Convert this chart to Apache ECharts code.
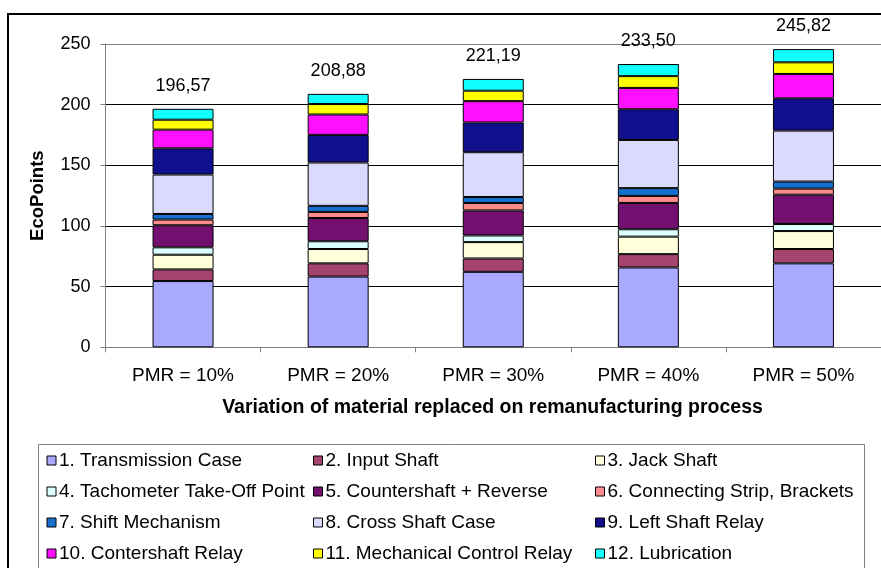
<!DOCTYPE html>
<html>
<head>
<meta charset="utf-8">
<script src="https://cdn.jsdelivr.net/npm/echarts@6/dist/echarts.min.js"></script>
<style>
html,body{margin:0;padding:0;background:#fff;}
#chart{width:881px;height:568px;}
</style>
</head>
<body>
<div id="chart"></div>
<script>
const categories = ['PMR = 10%', 'PMR = 20%', 'PMR = 30%', 'PMR = 40%', 'PMR = 50%'];
const totals = ['196,57', '208,88', '221,19', '233,50', '245,82'];
const yTicks = [0, 50, 100, 150, 200, 250];

const seriesNames = [
  '1. Transmission Case', '2. Input Shaft', '3. Jack Shaft',
  '4. Tachometer Take-Off Point', '5. Countershaft + Reverse', '6. Connecting Strip, Brackets',
  '7. Shift Mechanism', '8. Cross Shaft Case', '9. Left Shaft Relay',
  '10. Contershaft Relay', '11. Mechanical Control Relay', '12. Lubrication'
];

const transmissionCase   = [54.6, 58.3, 62.2, 65.8, 69.2];
const inputShaft         = [9.6, 10.9, 11.0, 11.0, 11.8];
const jackShaft          = [12.1, 11.8, 13.5, 14.4, 14.8];
const tachometer         = [6.1, 6.4, 5.5, 6.1, 5.8];
const countershaft       = [18.2, 19.2, 20.6, 21.7, 24.2];
const connectingStrip    = [4.7, 5.0, 6.1, 5.8, 5.0];
const shiftMechanism     = [4.6, 5.0, 5.0, 6.4, 5.8];
const crossShaftCase     = [32.5, 35.7, 36.9, 39.7, 42.0];
const leftShaftRelay     = [21.6, 22.8, 24.5, 25.3, 26.6];
const contershaftRelay   = [15.4, 16.8, 17.6, 17.6, 20.1];
const mechControlRelay   = [8.2, 8.6, 8.6, 9.7, 9.6];
const lubrication        = [9.0, 8.4, 9.7, 10.0, 10.9];

const seriesData = [
  transmissionCase, inputShaft, jackShaft, tachometer, countershaft, connectingStrip,
  shiftMechanism, crossShaftCase, leftShaftRelay, contershaftRelay, mechControlRelay, lubrication
];

const colors = [
  '#A9A9FF', '#A5446F', '#FFFFDA', '#DCFFFF', '#730F6F', '#FF8C8C',
  '#1570D0', '#DADAFF', '#10108E', '#FF10FF', '#FFFF00', '#10FFFF'
];

const FONT = '"Liberation Sans", Arial, sans-serif';

const series = seriesNames.map((name, i) => {
  const s = {
    name: name,
    type: 'bar',
    stack: 'total',
    barWidth: 61,
    data: seriesData[i],
    itemStyle: { color: colors[i], borderColor: '#000', borderWidth: 1 },
    emphasis: { disabled: true }
  };
  if (i === seriesNames.length - 1) {
    s.label = {
      show: true,
      position: 'top',
      distance: 14,
      fontFamily: FONT,
      fontSize: 18,
      color: '#000',
      formatter: p => totals[p.dataIndex]
    };
  }
  return s;
});

function legendCol(idxs, left) {
  return {
    orient: 'vertical',
    left: left,
    top: 451,
    padding: 0,
    itemGap: 12,
    itemWidth: 9,
    itemHeight: 9,
    icon: 'rect',
    selectedMode: false,
    itemStyle: { borderColor: '#000', borderWidth: 1 },
    textStyle: { fontFamily: FONT, fontSize: 19, color: '#000', lineHeight: 18, padding: [0, 0, 0, -2] },
    data: idxs.map(i => seriesNames[i])
  };
}

const option = {
  animation: false,
  backgroundColor: '#fff',
  grid: { left: 105.5, top: 44, right: -2, bottom: 220.7, show: false },
  legend: [
    legendCol([0, 3, 6, 9], 46.5),
    legendCol([1, 4, 7, 10], 313),
    legendCol([2, 5, 8, 11], 595)
  ],
  xAxis: {
    type: 'category',
    data: categories,
    axisLine: { lineStyle: { color: '#808080', width: 1 } },
    axisTick: { show: true, length: 5, lineStyle: { color: '#808080' } },
    axisLabel: { fontFamily: FONT, fontSize: 19, color: '#000', margin: 19 }
  },
  yAxis: {
    type: 'value',
    min: 0,
    max: 250,
    interval: 50,
    name: 'EcoPoints',
    nameLocation: 'middle',
    nameGap: 58,
    nameRotate: 90,
    nameTextStyle: { fontFamily: FONT, fontSize: 18.5, fontWeight: 'bold', color: '#000' },
    axisLine: { show: true, lineStyle: { color: '#808080', width: 1 } },
    axisTick: { show: true, length: 5, lineStyle: { color: '#808080' } },
    axisLabel: {
      fontFamily: FONT, fontSize: 18, color: '#000', margin: 15,
      formatter: v => (yTicks.indexOf(v) >= 0 ? String(v) : '')
    },
    splitLine: {
      show: true,
      lineStyle: { color: ['#808080', '#000', '#000', '#000', '#000', '#808080'], width: 1 }
    }
  },
  graphic: [
    {
      type: 'rect', z: 100, silent: true,
      shape: { x: 8, y: 14, width: 900, height: 600 },
      style: { fill: 'none', stroke: '#000', lineWidth: 2 }
    },
    {
      type: 'rect', z: 100, silent: true,
      shape: { x: 38.5, y: 444.5, width: 826, height: 140 },
      style: { fill: 'none', stroke: '#808080', lineWidth: 1 }
    },
    {
      type: 'text', z: 100, silent: true,
      x: 492.5, y: 408,
      style: {
        text: 'Variation of material replaced on remanufacturing process',
        fontFamily: FONT, fontSize: 19.5, fontWeight: 'bold', fill: '#000',
        align: 'center', verticalAlign: 'middle'
      }
    }
  ],
  series: series
};

const chart = echarts.init(document.getElementById('chart'), null, { renderer: 'canvas' });
chart.setOption(option);
</script>
</body>
</html>
